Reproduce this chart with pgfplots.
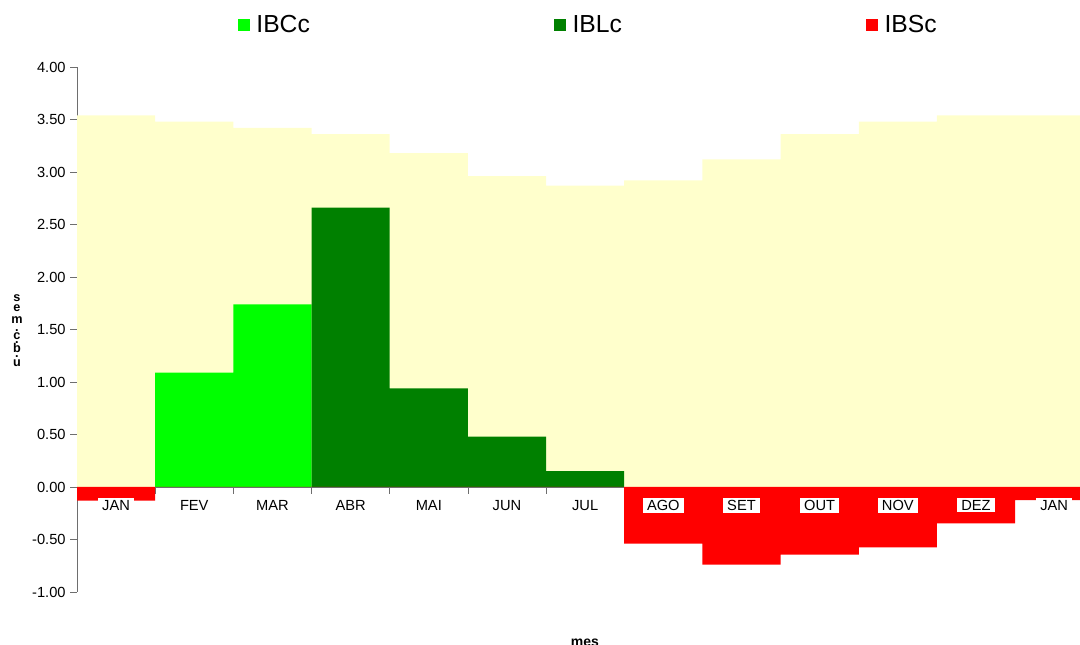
\documentclass[border=0pt]{standalone}
\usepackage{fontspec}
\setmainfont{Liberation Sans}
\usepackage{pgfplots}
\pgfplotsset{compat=1.18}

\definecolor{bgyellow}{RGB}{255,255,204}
\definecolor{lgreen}{RGB}{0,255,0}
\definecolor{dgreen}{RGB}{0,128,0}
\definecolor{axgray}{RGB}{110,110,110}

\begin{document}
\begin{tikzpicture}
\begin{axis}[
  at={(0,0)}, anchor=south west,
  scale only axis,
  width=752.25pt, height=393.75pt,
  xmin=0, xmax=12.83,
  ymin=-1, ymax=4,
  clip=true,
  axis x line=middle,
  axis y line=left,
  axis line style={axgray, -},
  ytick={-1,-0.5,...,4},
  yticklabel style={/pgf/number format/.cd, fixed, fixed zerofill, precision=2},
  /pgf/number format/assume math mode=true,
  tick style={axgray, thin},
  major tick length=5pt,
  tick align=outside,
  xtick={1,2,...,12},
  xticklabels={},
  ticklabel style={font=\fontsize{11}{13}\selectfont, black},
  legend columns=3,
  legend style={
    at={(0.51,1.08)}, anchor=center, draw=none, fill=none,
    font=\fontsize{18.5}{22}\selectfont,
    /tikz/every odd column/.append style={column sep=3pt},
    /tikz/every even column/.append style={column sep=181pt},
  },
  legend image code/.code={\fill[#1] (0pt,-4.5pt) rectangle (9pt,4.5pt);},
]
% fundo: indice maximo
\addplot[fill=bgyellow, draw=none, const plot mark left, forget plot]
  coordinates {(0,3.54) (1,3.48) (2,3.42) (3,3.36) (4,3.18) (5,2.96) (6,2.87)
               (7,2.92) (8,3.12) (9,3.36) (10,3.48) (11,3.54) (12,3.54) (13,3.54)} \closedcycle;

\addplot[fill=lgreen, draw=none, const plot mark left]
  coordinates {(1,1.09) (2,1.74) (3,1.74)} \closedcycle;
\addlegendentry{IBCc}

\addplot[fill=dgreen, draw=none, const plot mark left]
  coordinates {(3,2.66) (4,0.94) (5,0.48) (6,0.15) (7,0.15)} \closedcycle;
\addlegendentry{IBLc}

\addplot[fill=red, draw=none, const plot mark left]
  coordinates {(0,-0.13) (1,0) (7,-0.54) (8,-0.74) (9,-0.645) (10,-0.575)
               (11,-0.346) (12,-0.124) (13,-0.124)} \closedcycle;
\addlegendentry{IBSc}

% rotulos dos meses
\foreach \m [count=\i from 0] in {JAN,FEV,MAR,ABR,MAI,JUN,JUL,AGO,SET,OUT,NOV,DEZ,JAN}{
  \edef\tmp{\noexpand\node[fill=white, inner xsep=3pt, inner ysep=1.5pt,
    font=\noexpand\fontsize{11}{13}\noexpand\selectfont]
    at (axis cs:\i+0.5,-0.175) {\m};}
  \tmp
}
\end{axis}
% rotulo do eixo y (letras empilhadas)
\begin{scope}[every node/.style={font=\fontsize{9.5}{10}\bfseries\selectfont, inner sep=0pt, anchor=base}]
  \node at (-45pt,217.5pt) {s};
  \node at (-45pt,210pt) {e};
  \node at (-45pt,201pt) {m};
  \node at (-45pt,195.5pt) {.};
  \node at (-45pt,189pt) {c};
  \node at (-45pt,186pt) {.};
  \node at (-45pt,179.25pt) {b};
  \node at (-45pt,176pt) {.};
  \node at (-45pt,168.75pt) {u};
\end{scope}
% rotulo do eixo x
\node[font=\fontsize{10.5}{13}\bfseries\selectfont, anchor=base] at (381pt,-41pt) {mes};
\pgfresetboundingbox
\useasboundingbox (-57.75pt,-39.75pt) rectangle (752.25pt,444pt);
\end{tikzpicture}
\end{document}
